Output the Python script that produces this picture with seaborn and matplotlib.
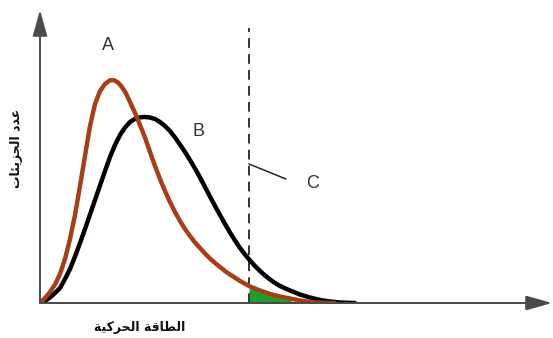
import matplotlib
matplotlib.use("Agg")
import matplotlib.pyplot as plt
import seaborn as sns

# kinetic energy (x) and number of molecules (y), arbitrary units
energy_a = [0, 5, 10, 15, 20, 25, 30, 35, 40, 45, 50, 55, 60, 65, 70, 74, 78, 82, 86, 90, 95,
            100, 105, 110, 115, 120, 125, 130, 135, 140, 145, 150, 155, 160, 165, 170, 175, 180,
            185, 190, 200, 210, 220, 230, 240, 250, 260, 270, 280, 295]
count_a = [0, 5, 11, 18.5, 29, 44, 64, 88, 117, 147, 177, 199, 212, 219, 222.7, 222.8, 220.5,
           216, 209.5, 201, 190, 178, 165.5, 151, 137, 124, 112, 101, 91, 82, 74, 67, 60.5, 55,
           49.5, 44.5, 40, 36, 32, 28.5, 22, 16.5, 12.5, 9, 6.5, 4.5, 2.5, 1, 0.2, 0]

energy_b = [0, 5, 10, 15, 20, 25, 30, 35, 40, 45, 50, 55, 60, 65, 70, 75, 80, 85, 90, 95, 100,
            105, 110, 115, 120, 125, 130, 135, 140, 145, 150, 155, 160, 165, 170, 175, 180, 185,
            190, 195, 200, 205, 210, 215, 220, 225, 230, 235, 240, 250, 260, 270, 280, 290, 300,
            315]
count_b = [0, 2, 5.5, 10, 15, 24, 34, 46.5, 60, 74, 88.5, 103, 117.5, 132, 146, 158, 168, 175.5,
           181, 184.2, 185.7, 186, 185.5, 184, 181, 177, 172, 165.5, 158.5, 151, 143, 134.5,
           125.5, 116, 106.5, 97, 88, 79, 70.5, 62.5, 55, 48.5, 42.5, 37, 32, 27.5, 23.5, 20, 17,
           12.5, 8.5, 5.5, 3, 1.5, 0.5, 0]

# activation energy and the shaded high-energy region under curve A
activation_energy = 209
activation_top = 275
shade_x = [209, 210, 213, 220, 230, 240, 246, 250, 252]
shade_top = [13, 15.5, 15.5, 13, 9, 6.5, 5, 3.5, 1]

labels = {"A": (68, 258), "B": (159, 172), "C": (273, 120)}
pointer_c = ([209, 246], [139, 124])


def rtl(s):
    # presentation forms are already shaped, only the order has to be flipped
    return s[::-1]


xlabel = rtl("\uFE8D\uFEDF\uFEC4\uFE8E\uFED7\uFE94 \uFE8D\uFEDF\uFEA4\uFEAE\uFEDB\uFEF4\uFE94")
ylabel = rtl("\uFECB\uFEAA\uFEA9 \uFE8D\uFEDF\uFEA0\uFEB0\uFEF3\uFE8C\uFE8E\uFE95")

sns.set_theme(style="white")
plt.rcParams["font.family"] = ["Liberation Sans", "DejaVu Sans"]

fig = plt.figure(figsize=(5.53, 3.38), dpi=100)
ax = fig.add_axes([40 / 553, 35 / 338, 512 / 553, 293 / 338])
ax.set_xlim(0, 512)
ax.set_ylim(0, 293)
for s in ax.spines.values():
    s.set_visible(False)
ax.set_xticks([])
ax.set_yticks([])
ax.patch.set_alpha(0)

ax.fill_between(shade_x, 0, shade_top, color="#1e9e2c", lw=0, zorder=1)

sns.lineplot(x=energy_b, y=count_b, sort=False, estimator=None, color="black", lw=3.2,
             ax=ax, zorder=3)
sns.lineplot(x=energy_a, y=count_a, sort=False, estimator=None, color="#a63f18", lw=3.2,
             ax=ax, zorder=4)

ax.plot([activation_energy, activation_energy], [0, activation_top], color="#333333", lw=1.4,
        dashes=(5.0, 3.2), zorder=2)
ax.plot(pointer_c[0], pointer_c[1], color="#222222", lw=1.1, zorder=2)

for name, (lx, ly) in labels.items():
    ax.text(lx, ly, name, fontsize=13, color="#333333", ha="center", va="center")

# axes with arrow heads
arrow = dict(arrowstyle="-|>,head_length=1.6,head_width=0.45", color="#4a4a4a", lw=1.4,
             shrinkA=0, shrinkB=0, mutation_scale=10)
ax.annotate("", xy=(1.0, 0), xytext=(0, 0), xycoords="axes fraction", arrowprops=arrow, zorder=5)
ax.annotate("", xy=(0, 1.0), xytext=(0, 0), xycoords="axes fraction", arrowprops=arrow, zorder=5)

fig.text(140 / 553, 1 - 327 / 338, xlabel, family="DejaVu Sans", fontweight="bold", fontsize=9,
         ha="center", va="center", color="#111111")
fig.text(17 / 553, 1 - 148 / 338, ylabel, family="DejaVu Sans", fontweight="bold", fontsize=9,
         rotation=90, ha="center", va="center", color="#111111")

fig.savefig("out.png", dpi=100)
